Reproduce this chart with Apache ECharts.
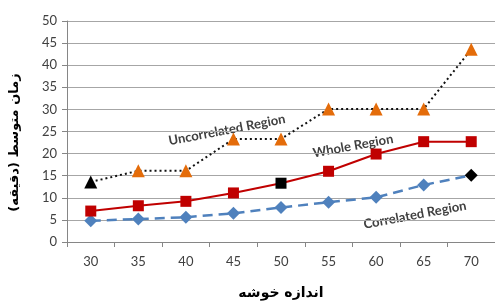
<!DOCTYPE html>
<html>
<head>
<meta charset="utf-8">
<script src="https://cdn.jsdelivr.net/npm/echarts@6/dist/echarts.min.js"></script>
<style>
  html, body { margin: 0; padding: 0; background: #fff; }
  #chart { width: 495px; height: 305px; }
</style>
</head>
<body>
<div id="chart"></div>
<script>
// cluster size (x) and mean time in minutes (y)
const clusterSizes = ["30", "35", "40", "45", "50", "55", "60", "65", "70"];
const uncorrelated = [13.6, 16.1, 16.1, 23.3, 23.3, 30.1, 30.1, 30.1, 43.6];
const whole = [7.0, 8.2, 9.2, 11.1, 13.3, 16.0, 19.9, 22.7, 22.7];
const correlated = [4.8, 5.2, 5.6, 6.5, 7.8, 9.0, 10.1, 12.9, 15.1];
const yTicks = [0, 5, 10, 15, 20, 25, 30, 35, 40, 45, 50];

// points drawn in black in the original
const blackUncorrelated = 0;
const blackWhole = 4;
const blackCorrelated = 8;

const chart = echarts.init(document.getElementById("chart"));

function markData(values, blackIndex) {
  return values.map((v, i) =>
    i === blackIndex ? { value: v, itemStyle: { color: "#000" } } : v
  );
}

const labelFont = { fontFamily: "Lato", fontWeight: "bold", fontSize: 13, fill: "#404040" };

chart.setOption({
  animation: false,
  grid: { left: 66, right: -4, top: 21, bottom: 56 },
  xAxis: {
    type: "category",
    data: clusterSizes,
    boundaryGap: true,
    axisLine: { lineStyle: { color: "#868686" } },
    axisTick: { show: true, length: 5, interval: 0, lineStyle: { color: "#868686" } },
    axisLabel: { color: "#404040", fontFamily: "Lato", fontSize: 13, margin: 13 },
    name: "اندازه خوشه",
    nameLocation: "middle",
    nameGap: 44,
    nameTextStyle: { fontFamily: "DejaVu Sans", fontWeight: "bold", fontSize: 14, color: "#000" },
  },
  yAxis: {
    type: "value",
    min: yTicks[0],
    max: yTicks[yTicks.length - 1],
    interval: 5,
    axisLine: { show: true, lineStyle: { color: "#868686" } },
    axisTick: { show: true, length: 5, lineStyle: { color: "#868686" } },
    axisLabel: { color: "#404040", fontFamily: "Lato", fontSize: 13, margin: 10 },
    splitLine: { lineStyle: { color: "#a6a6a6" } },
    name: "زمان متوسط (دقیقه)",
    nameLocation: "middle",
    nameGap: 46,
    nameRotate: 90,
    nameTextStyle: { fontFamily: "DejaVu Sans", fontWeight: "bold", fontSize: 13, color: "#000", padding: [0, 22, 0, 0] },
  },
  series: [
    {
      name: "Correlated Region",
      type: "line",
      data: markData(correlated, blackCorrelated),
      symbol: "diamond",
      symbolSize: 13,
      itemStyle: { color: "#4F81BD" },
      lineStyle: { color: "#4F81BD", width: 2.5, type: [10, 6] },
      z: 3,
    },
    {
      name: "Whole Region",
      type: "line",
      data: markData(whole, blackWhole),
      symbol: "rect",
      symbolSize: 11,
      itemStyle: { color: "#C00000" },
      lineStyle: { color: "#C00000", width: 2 },
      z: 4,
    },
    {
      name: "Uncorrelated Region",
      type: "line",
      data: markData(uncorrelated, blackUncorrelated),
      symbol: "triangle",
      symbolSize: 13,
      itemStyle: { color: "#E46C0A" },
      lineStyle: { color: "#111", width: 2, type: [2, 3] },
      z: 5,
    },
  ],
  graphic: [
    {
      type: "text", x: 227, y: 130, rotation: 0.19,
      style: Object.assign({ text: "Uncorrelated Region", align: "center", verticalAlign: "middle" }, labelFont),
    },
    {
      type: "text", x: 353, y: 146, rotation: 0.18,
      style: Object.assign({ text: "Whole Region", align: "center", verticalAlign: "middle" }, labelFont),
    },
    {
      type: "text", x: 415, y: 215, rotation: 0.185,
      style: Object.assign({ text: "Correlated Region", align: "center", verticalAlign: "middle" }, labelFont),
    },
  ],
});

window.addEventListener("resize", () => chart.resize());
</script>
</body>
</html>
